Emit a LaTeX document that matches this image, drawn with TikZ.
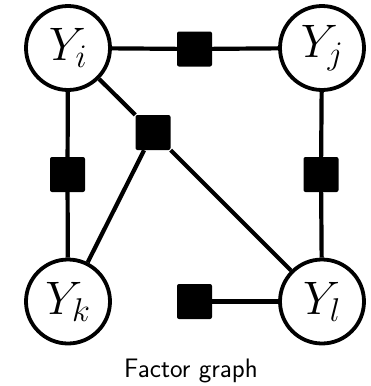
\RequirePackage{fix-cm}
\documentclass[tikz,border=0pt]{standalone}
\usepackage{tikz}
\begin{document}
\begin{tikzpicture}[x=1pt,y=-1pt,
  var/.style={circle,draw,line width=3.8pt,minimum size=84pt,inner sep=0pt,
    font=\fontsize{47}{50}\selectfont},
  fac/.style={rectangle,fill=black,rounded corners=2pt,minimum size=35pt,inner sep=0pt},
  link/.style={line width=4.2pt}]
\useasboundingbox (0,0) rectangle (370,386);
% variable nodes
\node[var] (yi) at (68,48) {$Y_i$};
\node[var] (yj) at (322,48) {$Y_j$};
\node[var] (yk) at (68,301.5) {$Y_k$};
\node[var] (yl) at (322,301.5) {$Y_l$};
% factor nodes
\node[fac] (fij) at (194.5,49) {};
\node[fac] (fik) at (67.5,174.5) {};
\node[fac] (fjl) at (321,174.5) {};
\node[fac] (fikl) at (153,132.5) {};
\node[fac] (fl) at (194.5,301.5) {};
% edges
\draw[link] (yi) -- (fij) -- (yj);
\draw[link] (yi) -- (fik) -- (yk);
\draw[link] (yj) -- (fjl) -- (yl);
\draw[link] (yi) -- (fikl);
\draw[link] (fikl) -- (yk);
\draw[link] (fikl) -- (yl);
\draw[link] (fl) -- (yl);
% caption
\node[anchor=base,font=\sffamily\fontsize{26.7}{30}\selectfont,inner sep=0pt] (cap) at (191,377) {Factor graph};
\end{tikzpicture}
\end{document}
